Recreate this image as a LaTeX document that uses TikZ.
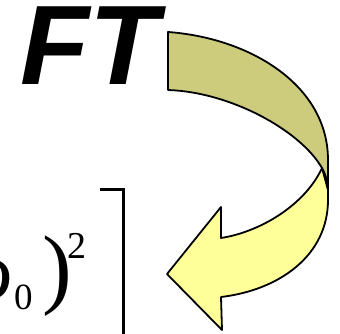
\documentclass[tikz,border=0pt]{standalone}
\usepackage{fontspec}
\setmainfont{Liberation Serif}
\newfontfamily\headfont{Liberation Sans}
\usetikzlibrary{positioning}
\definecolor{olivebk}{HTML}{CCCC7C}
\definecolor{yellowfr}{HTML}{FFFF99}
\tikzset{
  txt/.style   = {inner sep=0pt, outer sep=0pt},
  band/.style  = {draw=black, line width=1.8pt, line join=round},
  brk/.style   = {draw=black, line width=2.6pt, line join=miter},
}
\begin{document}
\begin{tikzpicture}[x=1pt, y=-1pt]
  \useasboundingbox (0,0) rectangle (340,334);
  % heading
  \node[txt, anchor=base west] (ft) at (20,85)
       {\headfont\bfseries\itshape\fontsize{113}{113}\selectfont FT};
  % formula fragment
  \node[txt, anchor=base east] (om) at (13,298)
       {\itshape\fontsize{82}{82}\selectfont ω};
  \node[txt, anchor=base west] (sub) at (14,309)
       {\fontsize{37}{37}\selectfont 0};
  \node[txt, anchor=base west] (par) at (42,297)
       {\fontsize{89}{89}\selectfont )};
  \node[txt, anchor=base west] (sup) at (67,258)
       {\fontsize{38}{38}\selectfont 2};
  \coordinate (bt) at (100,189.5);
  \coordinate (bb) at (123.5,340);
  \draw[brk] (bt) -| (bb);
  % twisted arrow: front part first, back part over it
  \coordinate (tw) at (322,168);
  \filldraw[band, fill=yellowfr] (tw)
       .. controls (305,205) and (260,232) .. (221,238)
       -- (221,207) -- (167,274) -- (222,330) -- (221,297)
       .. controls (280,290) and (328,255) .. (328,200)
       -- (328,190) -- cycle;
  \filldraw[band, fill=olivebk] (168,32)
       .. controls (250,38) and (328,85) .. (328,160)
       -- (328,192)
       .. controls (328,183) and (326,175) .. (tw)
       .. controls (300,130) and (230,92) .. (168,90) -- cycle;
\end{tikzpicture}
\end{document}
